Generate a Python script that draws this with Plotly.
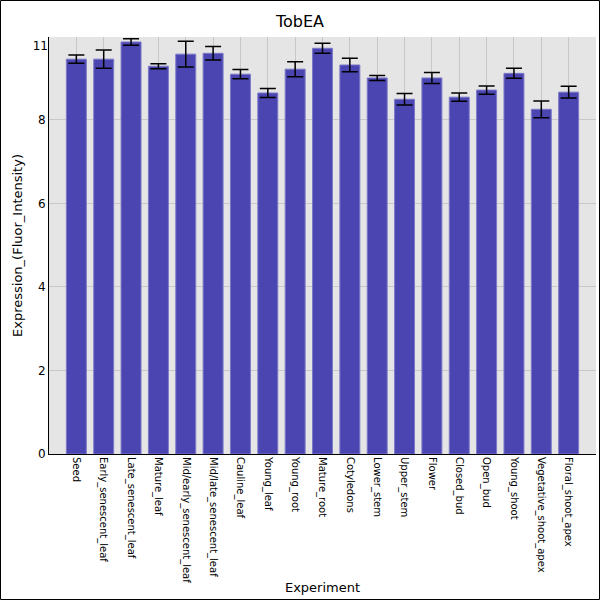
import plotly.graph_objects as go

# 実験ごとの発現量（図の目盛りから読み取り）
experiments = [
    "Seed", "Early_senescent_leaf", "Late_senescent_leaf", "Mature_leaf",
    "Mid/early_senescent_leaf", "Mid/late_senescent_leaf", "Cauline_leaf",
    "Young_leaf", "Young_root", "Mature_root", "Cotyledons", "Lower_stem",
    "Upper_stem", "Flower", "Closed_bud", "Open_bud", "Young_shoot",
    "Vegetative_shoot_apex", "Floral_shoot_apex",
]
expression = [
    9.45, 9.45, 9.86, 9.28, 9.57, 9.59, 9.09, 8.64, 9.21, 9.71,
    9.31, 9.00, 8.49, 9.00, 8.54, 8.71, 9.11, 8.25, 8.66,
]
errors = [
    0.10, 0.22, 0.08, 0.06, 0.31, 0.16, 0.11, 0.11, 0.18, 0.12,
    0.16, 0.06, 0.14, 0.13, 0.10, 0.10, 0.12, 0.20, 0.14,
]
y_ticks = [0, 2, 4, 6, 8]
top_tick = [9.78]
top_label = ["11"]
y_range = [0, 9.98]

W, H = 600, 600
L, R, T, B = 49, 4, 37, 146
font = "DejaVu Sans"

fig = go.Figure()

fig.add_trace(go.Bar(
    x=experiments,
    y=expression,
    marker={"color": "#4a45b1", "line": {"color": "#7d79c9", "width": 1}},
    error_y={"type": "data", "array": errors, "visible": True,
             "color": "black", "thickness": 1.5, "width": 8},
    showlegend=False,
))

# 上端のラベルだけ別の軸に載せる（グリッド線なし）
fig.add_trace(go.Scatter(x=[experiments[0]], y=[0], yaxis="y2",
                         mode="markers", marker={"opacity": 0},
                         showlegend=False, hoverinfo="skip"))

pw = W - L - R
ph = H - T - B
fig.add_shape(type="rect", xref="paper", yref="paper",
              x0=-(L - 0.5) / pw, x1=1 + (R - 0.5) / pw,
              y0=-(B - 0.5) / ph, y1=1 + (T - 0.5) / ph,
              line={"color": "black", "width": 1}, layer="above")

fig.update_layout(
    width=W,
    height=H,
    margin={"l": L, "r": R, "t": T, "b": B},
    paper_bgcolor="white",
    plot_bgcolor="#e5e5e5",
    bargap=0.27,
    font={"family": font, "color": "black"},
    title={"text": "TobEA", "x": 0.5, "xanchor": "center",
           "y": 1 - 21 / H, "yanchor": "middle",
           "font": {"size": 16, "family": font}},
    xaxis={
        "title": {"text": "Experiment", "font": {"size": 13}, "standoff": 0},
        "range": [-1, 19],
        "tickangle": 90,
        "tickfont": {"size": 10},
        "showgrid": True,
        "gridcolor": "#c8c8c8",
        "showline": True,
        "linecolor": "black",
        "linewidth": 1,
        "ticks": "",
        "automargin": False,
    },
    yaxis={
        "title": {"text": "Expression_(Fluor_Intensity)", "font": {"size": 13},
                  "standoff": 12},
        "range": y_range,
        "tickvals": y_ticks,
        "ticktext": [str(v) for v in y_ticks],
        "tickfont": {"size": 12},
        "showgrid": True,
        "gridcolor": "#c8c8c8",
        "zeroline": False,
        "showline": True,
        "linecolor": "black",
        "linewidth": 1,
        "ticks": "",
        "automargin": False,
    },
    yaxis2={
        "overlaying": "y",
        "side": "left",
        "range": y_range,
        "tickvals": top_tick,
        "ticktext": top_label,
        "tickfont": {"size": 12},
        "showgrid": False,
        "zeroline": False,
        "ticks": "",
    },
)

# ページの余白を消して図を左上に寄せる、ツールバーは出さない
fig.write_html("out.html", config={"displayModeBar": False},
               post_script="document.body.style.margin='0';")
